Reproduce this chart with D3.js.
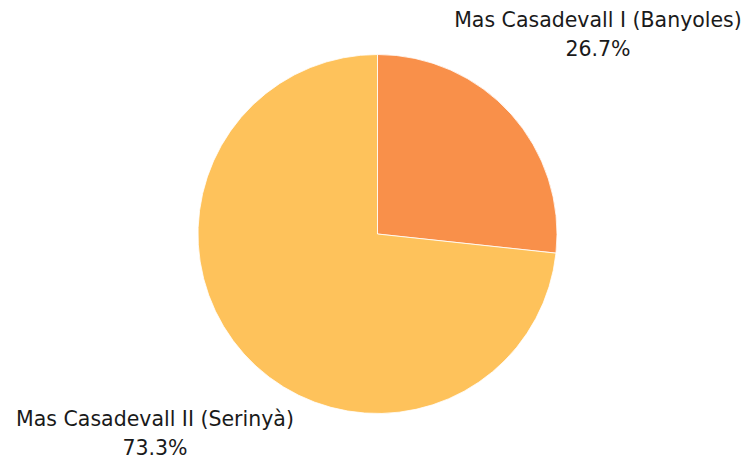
<!DOCTYPE html>
<html>
<head>
<meta charset="utf-8">
<script src="https://cdn.jsdelivr.net/npm/d3@7"></script>
<style>
  body { margin: 0; background: #fff; }
  text { font-family: "DejaVu Sans", sans-serif; fill: #1a1a1a; }
</style>
</head>
<body>
<div class="chart"></div>
<script>
// data
const names = ["Mas Casadevall I (Banyoles)", "Mas Casadevall II (Serinyà)"];
const shares = [26.7, 73.3];
const colors = ["#F9904A", "#FEC25B"];

const width = 752, height = 464;
const cx = 377.5, cy = 234, radius = 179.5;

const svg = d3.select(".chart").append("svg")
    .attr("width", width)
    .attr("height", height);

const data = names.map((n, i) => ({name: n, value: shares[i], color: colors[i]}));

const pie = d3.pie().sort(null).value(d => d.value);
const arc = d3.arc().innerRadius(0).outerRadius(radius);

const g = svg.append("g")
    .attr("transform", "translate(" + cx + "," + cy + ")");

g.selectAll("path")
    .data(pie(data))
    .enter()
    .append("path")
    .attr("d", arc)
    .attr("fill", d => d.data.color)
    .attr("stroke", "#fff")
    .attr("stroke-width", 0.8);

// labels: placed outside, top-right and bottom-left
const labelPos = [{x: 598, y: 27}, {x: 155, y: 426}];

const labels = svg.selectAll(".lbl")
    .data(data)
    .enter()
    .append("text")
    .attr("class", "lbl")
    .attr("text-anchor", "middle")
    .attr("font-size", "20.5px");

labels.append("tspan")
    .attr("x", (d, i) => labelPos[i].x)
    .attr("y", (d, i) => labelPos[i].y)
    .text(d => d.name);

labels.append("tspan")
    .attr("x", (d, i) => labelPos[i].x)
    .attr("y", (d, i) => labelPos[i].y + 29)
    .text(d => d.value.toFixed(1) + "%");
</script>
</body>
</html>
